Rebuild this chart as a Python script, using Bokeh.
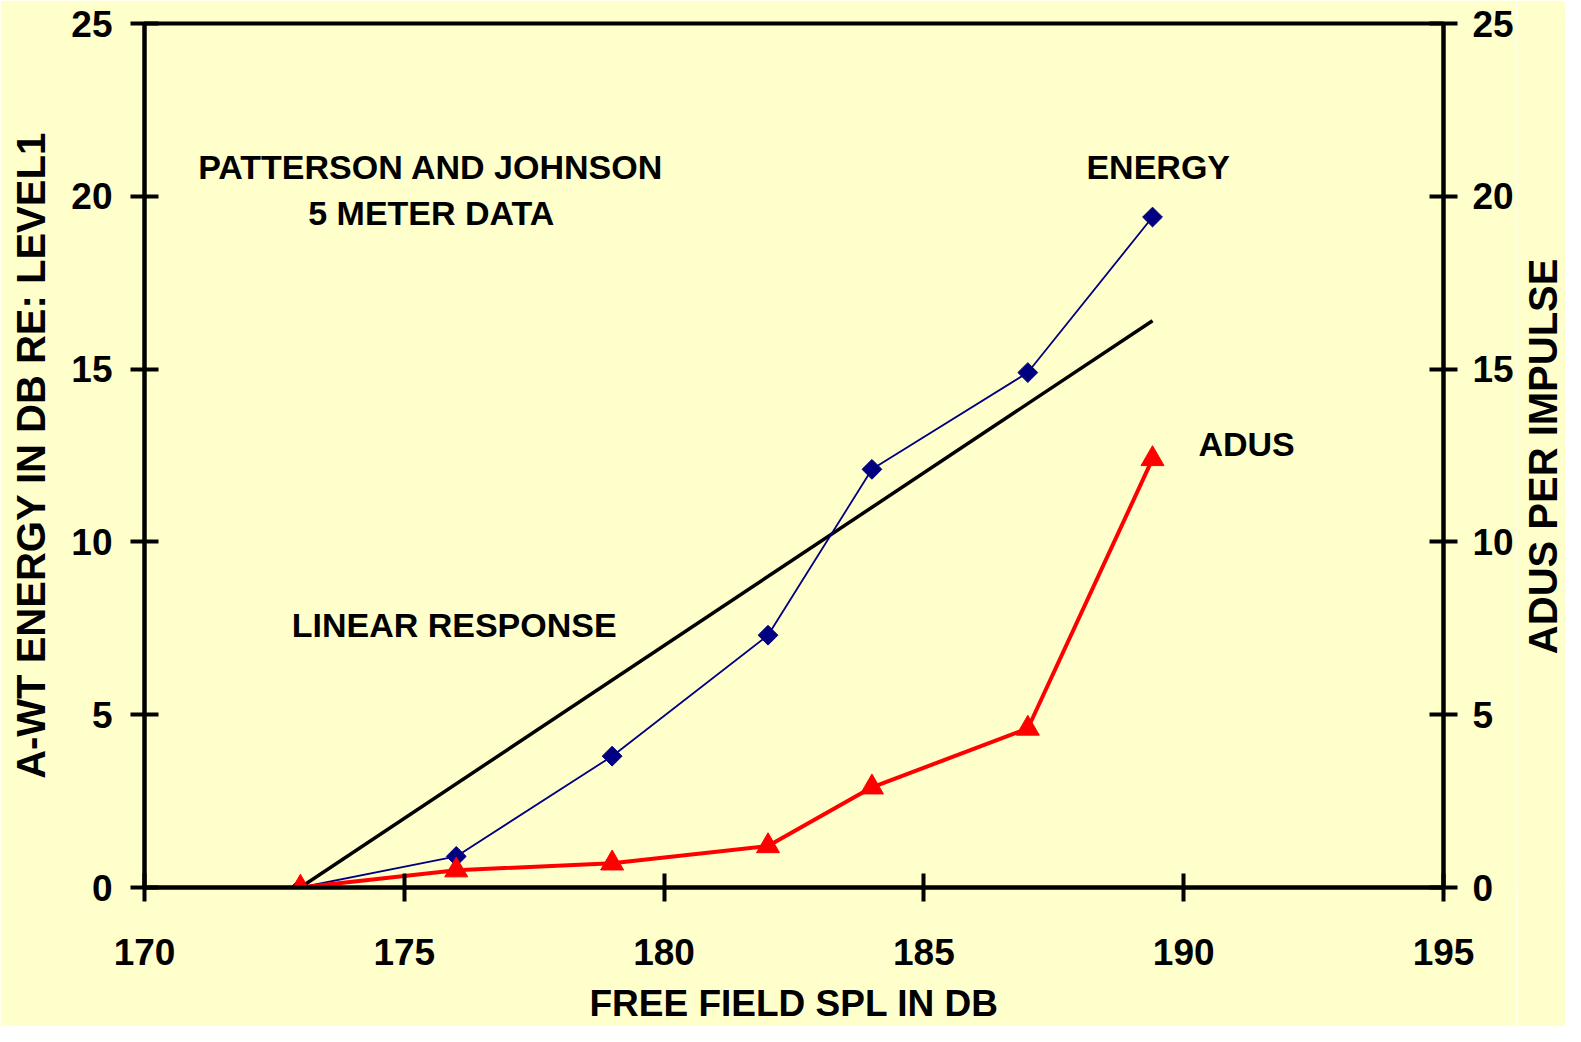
from bokeh.plotting import figure
from bokeh.models import Range1d, LinearAxis, FixedTicker, ColumnDataSource, Label
from bokeh.layouts import row
from bokeh.embed import file_html
from bokeh.resources import INLINE
import math

# ---- data ----
spl = [173, 176, 179, 182, 184, 187, 189.4]
energy = [0, 0.9, 3.8, 7.3, 12.1, 14.9, 19.4]
adus = [0, 0.5, 0.7, 1.2, 2.9, 4.6, 12.4]
linear_x = [173, 189.4]
linear_y = [0, 16.4]
x_ticks = [170, 175, 180, 185, 190, 195]
y_ticks = [0, 5, 10, 15, 20, 25]

FONT = "Liberation Sans"
BG = "#FFFFCC"
H = 1026
W_MAIN = 1516
W_SIDE = 49

p = figure(width=W_MAIN, height=H, output_backend="svg", toolbar_location=None,
           x_range=Range1d(170, 195), y_range=Range1d(0, 25),
           min_border_left=144, min_border_right=W_MAIN - 1444, min_border_top=23,
           min_border_bottom=139,
           background_fill_color=BG, border_fill_color=BG)
p.extra_y_ranges = {"right": Range1d(0, 25)}
p.grid.visible = False
p.outline_line_color = "black"
p.outline_line_width = 4

def style_axis(ax, standoff, title, title_size, title_standoff):
    ax.ticker = FixedTicker(ticks=y_ticks)
    ax.axis_line_width = 4
    ax.major_tick_line_width = 4
    ax.major_tick_in = 14
    ax.major_tick_out = 14
    ax.minor_tick_line_color = None
    ax.major_label_text_font = FONT
    ax.major_label_text_font_style = "bold"
    ax.major_label_text_font_size = "37px"
    ax.major_label_text_color = "black"
    ax.major_label_standoff = standoff
    ax.axis_label = title
    ax.axis_label_text_font = FONT
    ax.axis_label_text_font_style = "bold"
    ax.axis_label_text_font_size = title_size
    ax.axis_label_text_color = "black"
    ax.axis_label_standoff = title_standoff

xa = p.xaxis[0]
style_axis(xa, 37, "FREE FIELD SPL IN DB", "37px", 15)
xa.ticker = FixedTicker(ticks=x_ticks)

ya = p.yaxis[0]
style_axis(ya, 18, "A-WT ENERGY IN DB RE: LEVEL1", "40px", 15)

ra = LinearAxis(y_range_name="right")
style_axis(ra, 15, None, "38px", 0)
p.add_layout(ra, "right")

src_e = ColumnDataSource(dict(x=spl, y=energy))
src_a = ColumnDataSource(dict(x=spl, y=adus))

p.line(linear_x, linear_y, line_color="black", line_width=3.5)
p.line("x", "y", source=src_e, line_color="#000080", line_width=1.8)
p.scatter("x", "y", source=src_e, marker="square", angle=math.pi / 4, size=14,
          fill_color="#000080", line_color="#000080")
p.line("x", "y", source=src_a, y_range_name="right", line_color="#FF0000", line_width=4)
p.scatter("x", "y", source=src_a, y_range_name="right", marker="triangle", size=23,
          fill_color="#FF0000", line_color="#FF0000")

notes = [("PATTERSON AND JOHNSON", 175.51, 20.85),
         ("5 METER DATA", 175.52, 19.51),
         ("ENERGY", 189.51, 20.85),
         ("ADUS", 191.21, 12.83),
         ("LINEAR RESPONSE", 175.96, 7.60)]
for t, x, y in notes:
    p.add_layout(Label(x=x, y=y, text=t, text_align="center", text_baseline="alphabetic",
                       text_font=FONT, text_font_style="bold", text_font_size="34px",
                       text_color="black"))

# side strip carrying the right-hand axis title (reads bottom to top)
side = figure(width=W_SIDE, height=H, output_backend="svg", toolbar_location=None,
              x_range=Range1d(0, W_SIDE), y_range=Range1d(0, H),
              x_axis_location=None, y_axis_location=None, min_border=0,
              background_fill_color=BG, border_fill_color=BG)
side.outline_line_color = None
side.grid.visible = False
side.add_layout(Label(x=26, y=512, text="ADUS PER IMPULSE", angle=math.pi / 2,
                      text_align="center", text_baseline="alphabetic", text_font=FONT,
                      text_font_style="bold", text_font_size="40px", text_color="black"))

layout = row(p, side)
open("out.html", "w").write(file_html(layout, INLINE))
